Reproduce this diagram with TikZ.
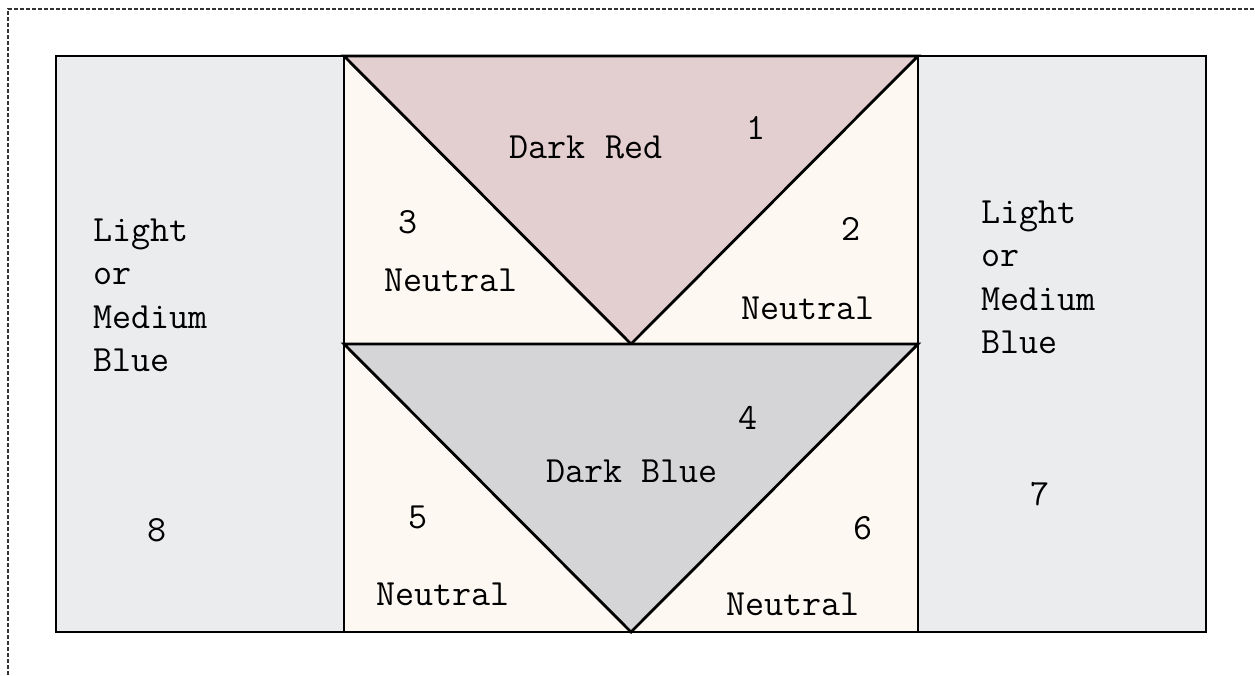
\documentclass[tikz,border=0pt]{standalone}
\definecolor{sideblue}{HTML}{EBECEE}
\definecolor{neutral}{HTML}{FDF8F2}
\definecolor{darkred}{HTML}{E3CFD0}
\definecolor{darkblue}{HTML}{D5D5D8}
\tikzset{
  patch/.style={draw=black, line width=2.8pt, line join=miter},
  lbl/.style={inner sep=0pt, font=\ttfamily\fontsize{37}{43.5}\selectfont},
  frame/.style={draw=black!80, line width=1.3pt, dash pattern=on 4pt off 2pt}
}
\begin{document}
\begin{tikzpicture}[x=1pt, y=-1pt]
\useasboundingbox (0,0) rectangle (1255,675);
% dashed outer frame (top and left only visible)
\coordinate (fa) at (8,675);
\coordinate (fb) at (8,9);
\coordinate (fc) at (1255,9);
\draw[frame] (fa) -- (fb) -- (fc);
% corners of the block
\coordinate (A) at (56,56);
\coordinate (B) at (344,56);
\coordinate (C) at (918,56);
\coordinate (D) at (1206,56);
\coordinate (E) at (344,344);
\coordinate (F) at (631,344);
\coordinate (G) at (918,344);
\coordinate (H) at (56,632);
\coordinate (I) at (344,632);
\coordinate (J) at (631,632);
\coordinate (K) at (918,632);
\coordinate (L) at (1206,632);
% side strips
\filldraw[patch, fill=sideblue] (A) -- (B) -- (I) -- (H) -- cycle;
\filldraw[patch, fill=sideblue] (C) -- (D) -- (L) -- (K) -- cycle;
% neutral background of centre
\filldraw[patch, fill=neutral] (B) -- (C) -- (K) -- (I) -- cycle;
% triangles
\filldraw[patch, fill=darkred] (B) -- (C) -- (F) -- cycle;
\filldraw[patch, fill=darkblue] (E) -- (G) -- (J) -- cycle;
\draw[patch] (E) -- (G);
% labels
\node[lbl] (tDR) at (586,147) {Dark Red};
\node[lbl] (n1) at (756,128) {1};
\node[lbl] (n3) at (408,222) {3};
\node[lbl] (tN1) at (451,280) {Neutral};
\node[lbl] (n2) at (851,229) {2};
\node[lbl] (tN2) at (808,308) {Neutral};
\node[lbl, anchor=west, align=left] (tL) at (93,295.5) {Light\\or\\Medium\\Blue};
\node[lbl] (n8) at (157,530) {8};
\node[lbl, anchor=west, align=left] (tR) at (981,277.5) {Light\\or\\Medium\\Blue};
\node[lbl] (n7) at (1040,494) {7};
\node[lbl] (n4) at (748,418) {4};
\node[lbl] (tDB) at (632,471) {Dark Blue};
\node[lbl] (n5) at (418,517) {5};
\node[lbl] (n6) at (863,528) {6};
\node[lbl] (tN3) at (443,594) {Neutral};
\node[lbl] (tN4) at (793,604) {Neutral};
\end{tikzpicture}
\end{document}
